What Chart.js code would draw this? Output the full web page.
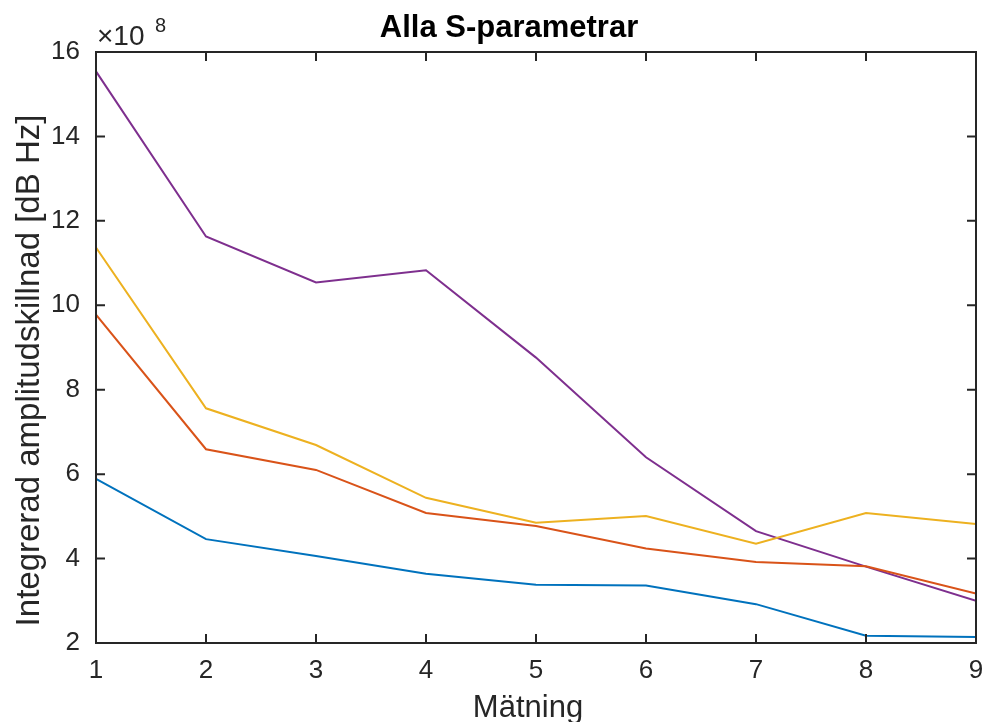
<!DOCTYPE html>
<html lang="sv">
<head>
    <meta charset="UTF-8">
    <title>Alla S-parametrar</title>
    <script src="https://cdn.jsdelivr.net/npm/chart.js"></script>
    <style>
        html, body { margin: 0; padding: 0; background: #fff; }
        #wrap { width: 983px; height: 722px; }
    </style>
</head>
<body>
<div id="wrap"><canvas id="sChart" width="983" height="722"></canvas></div>
<script>
    // measurement number (x) and values in units of 10^8
    const matning = [1, 2, 3, 4, 5, 6, 7, 8, 9];
    const serie1 = [5.89, 4.46, 4.06, 3.64, 3.38, 3.36, 2.92, 2.17, 2.14];
    const serie2 = [9.78, 6.59, 6.10, 5.08, 4.77, 4.24, 3.92, 3.82, 3.17];
    const serie3 = [11.37, 7.56, 6.69, 5.44, 4.85, 5.01, 4.35, 5.08, 4.82];
    const serie4 = [15.54, 11.63, 10.54, 10.83, 8.76, 6.40, 4.65, 3.81, 3.00];
    const yTicks = [2, 4, 6, 8, 10, 12, 14, 16];
    const exponent = '8';
    const title = 'Alla S-parametrar';
    const xLabel = 'M\u00e4tning';
    const yLabel = 'Integrerad amplitudskillnad [dB Hz]';

    const FONT = '"Liberation Sans", Arial, Helvetica, sans-serif';
    const AXIS = '#262626';

    const pts = arr => arr.map((v, i) => ({ x: matning[i], y: v }));
    const line = (data, color) => ({
        data: pts(data),
        borderColor: color,
        borderWidth: 2,
        pointRadius: 0,
        fill: false,
        tension: 0
    });

    // box with inward ticks on all four sides, plus the texts placed like MATLAB does
    const matlabBox = {
        id: 'matlabBox',
        afterDraw(chart) {
            const { ctx, chartArea: a, scales: { x, y } } = chart;
            ctx.save();
            ctx.strokeStyle = AXIS;
            ctx.lineWidth = 2;
            ctx.strokeRect(a.left, a.top, a.right - a.left, a.bottom - a.top);
            ctx.beginPath();
            const t = 9;
            matning.forEach(v => {
                const px = x.getPixelForValue(v);
                ctx.moveTo(px, a.bottom); ctx.lineTo(px, a.bottom - t);
                ctx.moveTo(px, a.top); ctx.lineTo(px, a.top + t);
            });
            yTicks.forEach(v => {
                const py = y.getPixelForValue(v);
                ctx.moveTo(a.left, py); ctx.lineTo(a.left + t, py);
                ctx.moveTo(a.right, py); ctx.lineTo(a.right - t, py);
            });
            ctx.stroke();

            ctx.fillStyle = AXIS;
            ctx.textBaseline = 'alphabetic';
            ctx.textAlign = 'left';
            ctx.font = '28px ' + FONT;
            ctx.fillText('\u00d710', a.left + 1, a.top - 7);
            ctx.font = '20px ' + FONT;
            ctx.fillText(exponent, a.left + 59, a.top - 20);

            // title
            ctx.fillStyle = '#000';
            ctx.textAlign = 'center';
            ctx.font = 'bold 31px ' + FONT;
            ctx.fillText(title, 509, 37);

            // x axis label
            ctx.fillStyle = AXIS;
            ctx.font = '31px ' + FONT;
            ctx.fillText(xLabel, (a.left + a.right) / 2 - 8, 717);

            // y axis label, a bit below the axis centre
            ctx.translate(30, (a.top + a.bottom) / 2 + 23);
            ctx.rotate(-Math.PI / 2);
            ctx.textBaseline = 'middle';
            ctx.font = '33px ' + FONT;
            ctx.fillText(yLabel, 0, 0);
            ctx.restore();
        }
    };

    new Chart(document.getElementById('sChart'), {
        type: 'line',
        data: {
            datasets: [
                line(serie1, '#0072BD'),
                line(serie2, '#D95319'),
                line(serie3, '#EDB120'),
                line(serie4, '#7E2F8E')
            ]
        },
        options: {
            responsive: false,
            animation: false,
            layout: { padding: { left: 0, right: 7, top: 52, bottom: 0 } },
            plugins: {
                legend: { display: false },
                tooltip: { enabled: false },
                title: { display: false }
            },
            scales: {
                x: {
                    type: 'linear',
                    min: 1,
                    max: 9,
                    grid: { display: false, drawTicks: false },
                    border: { display: false },
                    ticks: {
                        stepSize: 1,
                        color: AXIS,
                        padding: 12,
                        font: { family: FONT, size: 26 }
                    },
                    afterFit(scale) {
                        scale.height = 79;
                        scale.paddingLeft = 0;
                        scale.paddingRight = 0;
                    }
                },
                y: {
                    type: 'linear',
                    min: 2,
                    max: 16,
                    grid: { display: false, drawTicks: false },
                    border: { display: false },
                    afterBuildTicks(scale) {
                        scale.ticks = yTicks.map(v => ({ value: v }));
                    },
                    ticks: {
                        color: AXIS,
                        padding: 16,
                        font: { family: FONT, size: 26 }
                    },
                    afterFit(scale) {
                        scale.width = 96;
                        scale.paddingTop = 0;
                        scale.paddingBottom = 0;
                    }
                }
            }
        },
        plugins: [matlabBox]
    });
</script>
</body>
</html>
